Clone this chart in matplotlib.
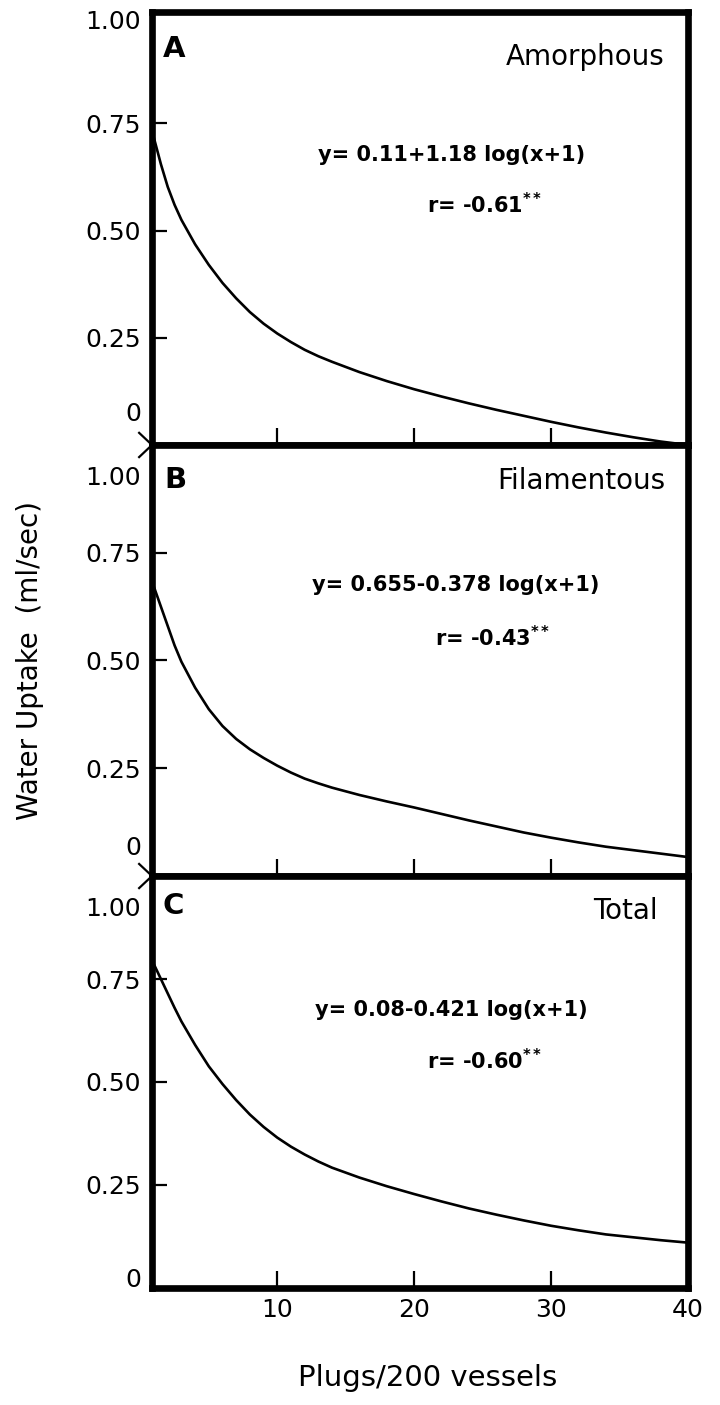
import matplotlib
matplotlib.use('Agg')
import matplotlib.pyplot as plt
from matplotlib import rcParams

rcParams['font.family'] = ['DejaVu Sans']

# values
plugs = [1, 1.5, 2, 2.5, 3, 4, 5, 6, 7, 8, 9, 10, 11, 12, 13, 14, 16, 18, 20,
         22, 24, 26, 28, 30, 32, 34, 36, 38, 40]
amorphous = [0.715, 0.655, 0.602, 0.56, 0.525, 0.468, 0.42, 0.378, 0.342, 0.31,
             0.283, 0.26, 0.24, 0.222, 0.207, 0.194, 0.17, 0.149, 0.13,
             0.113, 0.097, 0.082, 0.068, 0.054, 0.041, 0.029, 0.018, 0.008, 0.0]
filamentous = [0.67, 0.625, 0.58, 0.535, 0.497, 0.437, 0.387, 0.348, 0.318, 0.294,
               0.274, 0.256, 0.24, 0.226, 0.215, 0.205, 0.188, 0.173, 0.159,
               0.144, 0.129, 0.115, 0.101, 0.089, 0.078, 0.068, 0.06, 0.052, 0.044]
total = [0.785, 0.75, 0.715, 0.68, 0.647, 0.59, 0.538, 0.495, 0.456, 0.421,
         0.391, 0.365, 0.343, 0.324, 0.307, 0.292, 0.268, 0.247, 0.228,
         0.21, 0.193, 0.178, 0.164, 0.151, 0.14, 0.13, 0.123, 0.116, 0.11]

series = [amorphous, filamentous, total]
letters = ['A', 'B', 'C']
names = ['Amorphous', 'Filamentous', 'Total']
equations = ['y= 0.11+1.18 log(x+1)', 'y= 0.655-0.378 log(x+1)', 'y= 0.08-0.421 log(x+1)']
r_values = ['r= -0.61', 'r= -0.43', 'r= -0.60']
yticks = [0.25, 0.50, 0.75]
ytick_labels = ['0.25', '0.50', '0.75']
xticks = [10, 20, 30, 40]
xtick_labels = ['10', '20', '30', '40']

fig = plt.figure(figsize=(7.2, 14.05), dpi=100)

# panel rectangles (figure fraction)
rects = [[0.2111, 0.6833, 0.7444, 0.3082],
         [0.2111, 0.3765, 0.7444, 0.3068],
         [0.2111, 0.0833, 0.7444, 0.2932]]
ytops = [1.01, 1.0, 1.0]
zero_shift = [22, 20, 6]
one_shift = [-4, -24, -24]
eq_pos = [(0.31, 0.67), (0.299, 0.675), (0.304, 0.675)]
r_pos = [(0.513, 0.554), (0.528, 0.552), (0.513, 0.553)]
name_pos = [(0.957, 0.896), (0.957, 0.916), (0.944, 0.915)]
letter_pos = [(0.02, 0.915), (0.024, 0.919), (0.019, 0.927)]

for i in range(3):
    ax = fig.add_axes(rects[i])
    ax.plot(plugs, series[i], color='black', lw=1.9, solid_joinstyle='round')
    ax.set_xlim(0.85, 40)
    ax.set_ylim(0, ytops[i])
    for s in ax.spines.values():
        s.set_linewidth(4.8)
        s.set_capstyle('projecting')

    ax.set_yticks(yticks)
    ax.set_yticklabels(ytick_labels)
    ax.tick_params(axis='y', direction='in', length=11, width=1.6,
                   labelsize=18, pad=8)
    ax.set_xticks(xticks)
    if i == 2:
        ax.set_xticklabels(xtick_labels)
    else:
        ax.set_xticklabels([])
    ax.tick_params(axis='x', direction='in', length=12, width=1.6,
                   labelsize=18, pad=7)

    # end labels sit a little off their values in the original
    ax.annotate('0', xy=(0, 0), xycoords=ax.get_yaxis_transform(),
                xytext=(-8, zero_shift[i]), textcoords='offset points',
                ha='right', va='center', fontsize=18)
    ax.annotate('1.00', xy=(0, 1.0), xycoords=ax.get_yaxis_transform(),
                xytext=(-8, one_shift[i]), textcoords='offset points',
                ha='right', va='center', fontsize=18)

    ax.text(letter_pos[i][0], letter_pos[i][1], letters[i], transform=ax.transAxes,
            fontsize=21, fontweight='bold', ha='left', va='center')
    ax.text(name_pos[i][0], name_pos[i][1], names[i], transform=ax.transAxes,
            fontsize=20, ha='right', va='center')
    ax.text(eq_pos[i][0], eq_pos[i][1], equations[i], transform=ax.transAxes,
            fontsize=15, fontweight='bold', ha='left', va='center')
    ax.text(r_pos[i][0], r_pos[i][1], r_values[i] + r'$^{\mathbf{**}}$',
            transform=ax.transAxes, fontsize=15, fontweight='bold',
            ha='left', va='center')

    # break mark at the lower left corner of the upper panels
    if i < 2:
        dx = 0.024
        dy = 0.028
        ax.plot([-dx, 0, -dx], [dy, 0, -dy], color='black', lw=1.6,
                transform=ax.transAxes, clip_on=False)

fig.text(0.042, 0.53, 'Water Uptake  (ml/sec)', rotation=90,
         ha='center', va='center', fontsize=20)
fig.text(0.594, 0.019, 'Plugs/200 vessels', ha='center', va='center', fontsize=21)

fig.savefig('out.png', dpi=100)
